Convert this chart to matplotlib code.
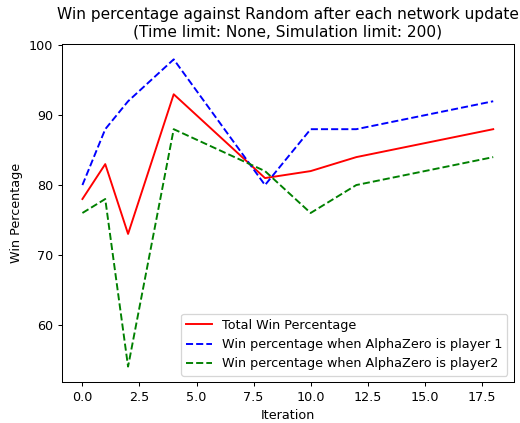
import matplotlib
matplotlib.use("Agg")
import matplotlib.pyplot as plt

# Data
iterations = [0, 1, 2, 4, 8, 10, 12, 18]
total_win = [78, 83, 73, 93, 81, 82, 84, 88]
win_player1 = [80, 88, 92, 98, 80, 88, 88, 92]
win_player2 = [76, 78, 54, 88, 82, 76, 80, 84]

# slightly lower dpi so text comes out a bit smaller, like the reference
dpi = 92
fig = plt.figure(figsize=(520 / dpi, 423 / dpi), dpi=dpi)
ax = fig.add_subplot(111)

ax.plot(iterations, total_win, 'r', label='Total Win Percentage')
ax.plot(iterations, win_player1, 'b--', label='Win percentage when AlphaZero is player 1')
ax.plot(iterations, win_player2, 'g--', label='Win percentage when AlphaZero is player2')

ax.set_xlabel('Iteration')
ax.set_ylabel('Win Percentage')
ax.set_title('Win percentage against Random after each network update\n'
             '(Time limit: None, Simulation limit: 200)')
ax.legend(loc='lower right')

fig.subplots_adjust(left=0.119, right=0.988, top=0.896, bottom=0.097)
fig.savefig('out.png', dpi=dpi)
